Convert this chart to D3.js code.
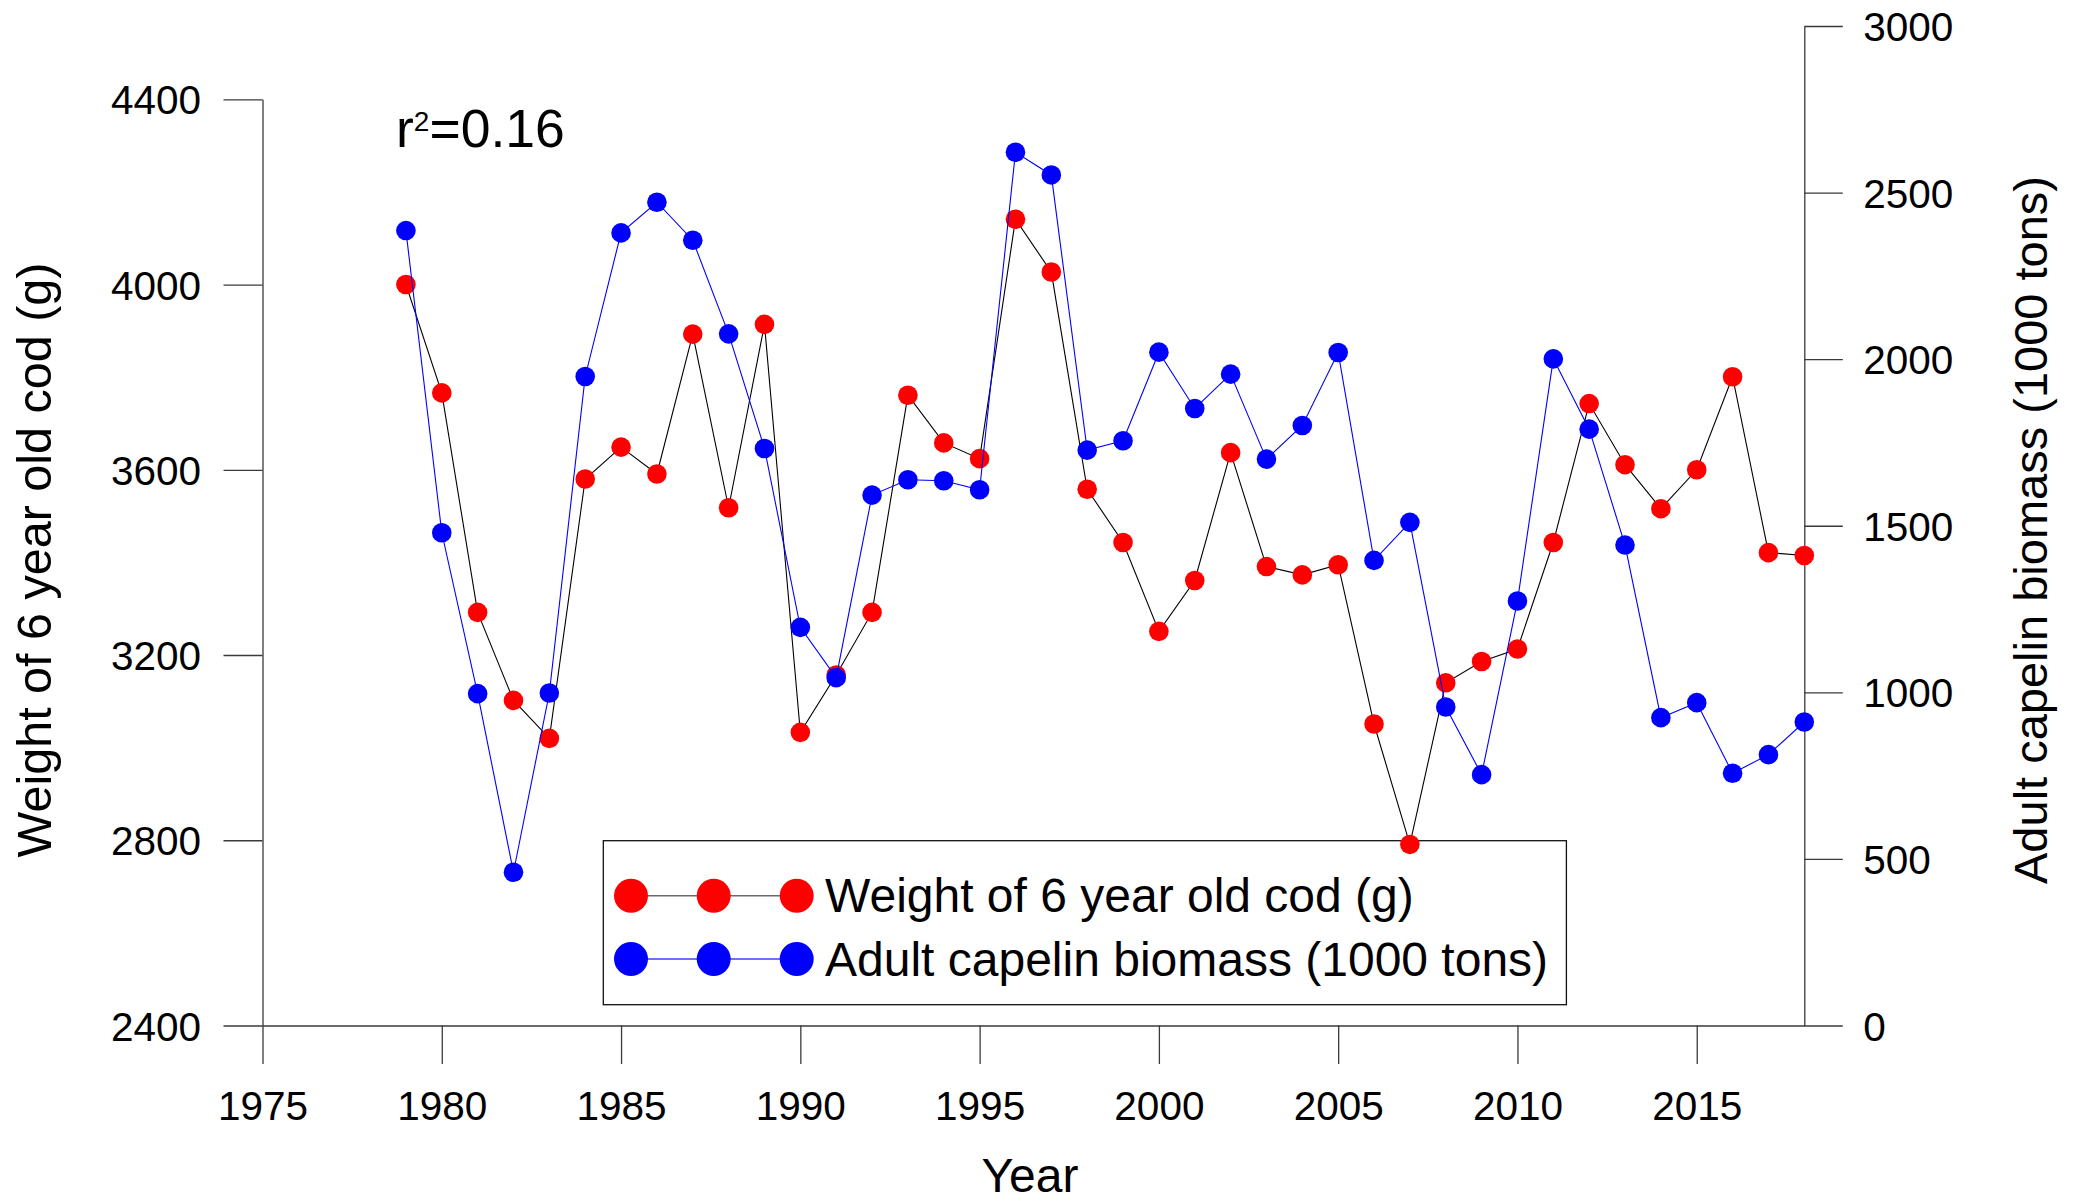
<!DOCTYPE html>
<html>
<head>
<meta charset="utf-8">
<script src="https://cdn.jsdelivr.net/npm/d3@7/dist/d3.min.js"></script>
<style>
  html, body { margin: 0; padding: 0; background: #fff; }
  svg { display: block; font-family: "Liberation Sans", Arial, sans-serif; }
</style>
</head>
<body>
<svg id="chart" width="2077" height="1201"></svg>
<script>
// Survey years
const years = [1979, 1980, 1981, 1982, 1983, 1984, 1985, 1986, 1987, 1988,
               1989, 1990, 1991, 1992, 1993, 1994, 1995, 1996, 1997, 1998,
               1999, 2000, 2001, 2002, 2003, 2004, 2005, 2006, 2007, 2008,
               2009, 2010, 2011, 2012, 2013, 2014, 2015, 2016, 2017, 2018];

// Mean weight of 6-year-old cod (g)
const codWeight = [4000, 3766, 3292, 3102, 3020, 3580, 3649, 3591, 3893, 3518,
                   3914, 3033, 3157, 3292, 3761, 3658, 3624, 4141, 4027, 3558,
                   3443, 3251, 3361, 3637, 3391, 3373, 3395, 3051, 2791, 3140,
                   3186, 3213, 3443, 3743, 3611, 3516, 3600, 3801, 3421, 3415];

// Adult capelin biomass (1000 tons)
const capelinBiomass = [2386, 1479, 996, 460, 998, 1948, 2379, 2471, 2357, 2076,
                        1732, 1195, 1044, 1592, 1638, 1635, 1608, 2621, 2553, 1727,
                        1755, 2021, 1852, 1955, 1700, 1801, 2020, 1396, 1510, 956,
                        753, 1274, 2001, 1790, 1442, 924, 969, 757, 813, 911];

// Axis ticks
const xTicks = [1975, 1980, 1985, 1990, 1995, 2000, 2005, 2010, 2015];
const yLeftTicks = [2400, 2800, 3200, 3600, 4000, 4400];
const yRightTicks = [0, 500, 1000, 1500, 2000, 2500, 3000];

// Text
const xTitle = "Year";
const yLeftTitle = "Weight of 6 year old cod (g)";
const yRightTitle = "Adult capelin biomass (1000 tons)";
const legendLabels = ["Weight of 6 year old cod (g)", "Adult capelin biomass (1000 tons)"];
const r2Value = "0.16";

const svg = d3.select("#chart");
const axisColor = "#3a3a3a";
const tickFont = 40.5;

const x = d3.scaleLinear().domain([1975, 2018]).range([262.5, 1804.3]);
const yL = d3.scaleLinear().domain([2400, 4400]).range([1025.5, 99.3]);
const yR = d3.scaleLinear().domain([0, 3000]).range([1025.5, 26]);

function styleAxis(g) {
  g.selectAll("path, line").attr("stroke", axisColor).attr("stroke-width", 1.3);
  g.selectAll("text").attr("fill", "#000").attr("font-size", tickFont)
    .attr("font-family", "'Liberation Sans', Arial, sans-serif");
}

// Bottom axis
const gx = svg.append("g").attr("transform", `translate(0,${yL.range()[0]})`)
  .call(d3.axisBottom(x).tickValues(xTicks).tickFormat(d3.format("d"))
        .tickSize(38.5).tickSizeOuter(0).tickPadding(27));
styleAxis(gx);
gx.selectAll("text").attr("dy", "0.72em");

// Left axis
const gl = svg.append("g").attr("transform", `translate(${x.range()[0]},0)`)
  .call(d3.axisLeft(yL).tickValues(yLeftTicks).tickFormat(d3.format("d"))
        .tickSize(39).tickSizeOuter(0).tickPadding(22.5));
styleAxis(gl);
gl.selectAll("text").attr("dy", "0.36em");

// Right axis
const gr = svg.append("g").attr("transform", `translate(${x.range()[1]},0)`)
  .call(d3.axisRight(yR).tickValues(yRightTicks).tickFormat(d3.format("d"))
        .tickSize(38.5).tickSizeOuter(0).tickPadding(20.5));
styleAxis(gr);
gr.selectAll("text").attr("dy", "0.36em");

// Axis titles
svg.append("text").attr("x", 1030).attr("y", 1192).attr("text-anchor", "middle")
  .attr("font-size", 48).text(xTitle);
svg.append("text").attr("transform", "translate(51.3,560) rotate(-90)")
  .attr("text-anchor", "middle").attr("font-size", 48.5).text(yLeftTitle);
svg.append("text").attr("transform", "translate(2046.5,530) rotate(-90)")
  .attr("text-anchor", "middle").attr("font-size", 47).text(yRightTitle);

// r² annotation
const r2 = svg.append("text").attr("x", 396).attr("y", 147.3).attr("font-size", 53.5);
r2.append("tspan").text("r");
r2.append("tspan").attr("font-size", 28).attr("dy", -16).text("2");
r2.append("tspan").attr("dy", 16).text("=" + r2Value);

// Legend (drawn beneath the series so markers stay on top)
const legend = svg.append("g");
legend.append("rect").attr("x", 603.3).attr("y", 840.7).attr("width", 963.1).attr("height", 164)
  .attr("fill", "#fff").attr("stroke", "#111").attr("stroke-width", 1.3);
const legendRows = [
  { label: legendLabels[0], fill: "#ff0000", line: "#6a6a6a", cy: 895.7, base: 912 },
  { label: legendLabels[1], fill: "#0000ff", line: "#4040ff", cy: 959, base: 975.5 }
];
const markerXs = [631, 713.7, 796.7];
legendRows.forEach(row => {
  legend.append("line").attr("x1", markerXs[0]).attr("x2", markerXs[2])
    .attr("y1", row.cy).attr("y2", row.cy).attr("stroke", row.line).attr("stroke-width", 1.4);
  markerXs.forEach(mx => legend.append("circle").attr("cx", mx).attr("cy", row.cy)
    .attr("r", 17).attr("fill", row.fill));
  legend.append("text").attr("x", 825).attr("y", row.base).attr("font-size", 48).text(row.label);
});

// Series
const codPts = years.map((yr, i) => [yr, codWeight[i]]);
const capPts = years.map((yr, i) => [yr, capelinBiomass[i]]);
const markerR = 9.8;

svg.append("path").datum(codPts)
  .attr("fill", "none").attr("stroke", "#000").attr("stroke-width", 1.1)
  .attr("d", d3.line().x(d => x(d[0])).y(d => yL(d[1])));
svg.append("g").selectAll("circle").data(codPts).join("circle")
  .attr("cx", d => x(d[0])).attr("cy", d => yL(d[1])).attr("r", markerR)
  .attr("fill", "#ff0000");

svg.append("path").datum(capPts)
  .attr("fill", "none").attr("stroke", "#0000ff").attr("stroke-width", 1.1)
  .attr("d", d3.line().x(d => x(d[0])).y(d => yR(d[1])));
svg.append("g").selectAll("circle").data(capPts).join("circle")
  .attr("cx", d => x(d[0])).attr("cy", d => yR(d[1])).attr("r", markerR)
  .attr("fill", "#0000ff");
</script>
</body>
</html>
